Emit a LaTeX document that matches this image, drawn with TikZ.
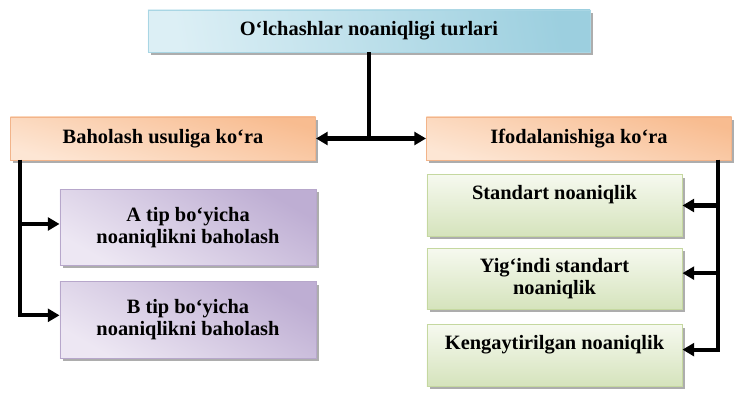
\documentclass[tikz,border=0pt]{standalone}
\usepackage{fontspec}
\setmainfont{Liberation Serif}
\usepackage{tikz}
\usetikzlibrary{arrows.meta,shadows}

\definecolor{blueA}{HTML}{DCEFF5}
\definecolor{blueB}{HTML}{9CCFDF}
\definecolor{blueE}{HTML}{A9D6E4}
\definecolor{orangeA}{HTML}{FDE6D4}
\definecolor{orangeB}{HTML}{F8BC90}
\definecolor{orangeE}{HTML}{F2B48A}
\definecolor{purpleA}{HTML}{EDE7F3}
\definecolor{purpleB}{HTML}{BEAED3}
\definecolor{purpleE}{HTML}{B7A7CB}
\definecolor{greenA}{HTML}{F6F9EF}
\definecolor{greenB}{HTML}{D5E3BC}
\definecolor{greenE}{HTML}{C5D8A0}

\begin{document}
\begin{tikzpicture}[
    x=0.03cm, y=-0.03cm,
    font=\fontsize{17.4}{18.7}\selectfont\bfseries,
    box/.style={rectangle, inner sep=0pt, align=center, line width=0.8pt,
        drop shadow={shadow xshift=2.4pt, shadow yshift=-2.4pt, fill=black!40, opacity=0.8}},
    headbox/.style={box, draw=blueE, left color=blueA, right color=blueB, shading angle=100,
        minimum width=13.26cm, minimum height=1.26cm},
    groupbox/.style={box, draw=orangeE, top color=orangeA, bottom color=orangeB, shading angle=165,
        minimum width=9.15cm, minimum height=1.29cm},
    methodbox/.style={box, draw=purpleE, top color=purpleA, bottom color=purpleB, shading angle=150,
        minimum width=7.68cm, minimum height=2.29cm},
    kindbox/.style={box, draw=greenE, top color=greenA, bottom color=greenB,
        minimum width=7.65cm, minimum height=1.84cm},
    upper/.style={text depth=22pt},
    conn/.style={line width=3.6pt},
    arrow/.style={conn, -{Triangle[length=10pt,width=11pt]}},
    biarrow/.style={conn, {Triangle[length=10pt,width=11pt]}-{Triangle[length=10pt,width=11pt]}}
]
    \useasboundingbox (0,0) rectangle (744,404);

    % --- TOP ---
    \node[headbox] (title) at (369,31) {O‘lchashlar noaniqligi turlari};

    % --- GROUPS ---
    \node[groupbox] (baholash) at (163,138.5) {Baholash usuliga ko‘ra};
    \node[groupbox] (ifoda) at (579,138.5) {Ifodalanishiga ko‘ra};

    % --- LEFT BRANCH ---
    \node[methodbox] (atip) at (188,227.5) {A tip bo‘yicha\\noaniqlikni baholash};
    \node[methodbox] (btip) at (188,320) {B tip bo‘yicha\\noaniqlikni baholash};

    % --- RIGHT BRANCH ---
    \node[kindbox, upper] (standart) at (554.5,205.5) {Standart noaniqlik};
    \node[kindbox] (yigindi) at (554.5,279) {Yig‘indi standart\\noaniqlik};
    \node[kindbox, upper] (kengay) at (554.5,355.5) {Kengaytirilgan noaniqlik};

    % ================= CONNECTORS =================
    \draw[conn] (title.south) -- (title.south |- baholash.east);
    \draw[biarrow] (baholash) -- (ifoda);

    \coordinate (lefttrunk) at (20,160);
    \draw[arrow] (lefttrunk) |- ([yshift=3pt]atip.west);
    \draw[arrow] (lefttrunk) |- ([yshift=4pt]btip.west);

    \coordinate (righttrunk) at (718,160);
    \draw[arrow] (righttrunk) |- (standart.east);
    \draw[arrow] (righttrunk) |- ([yshift=5pt]yigindi.east);
    \draw[arrow] (righttrunk) |- ([yshift=5pt]kengay.east);

\end{tikzpicture}
\end{document}
